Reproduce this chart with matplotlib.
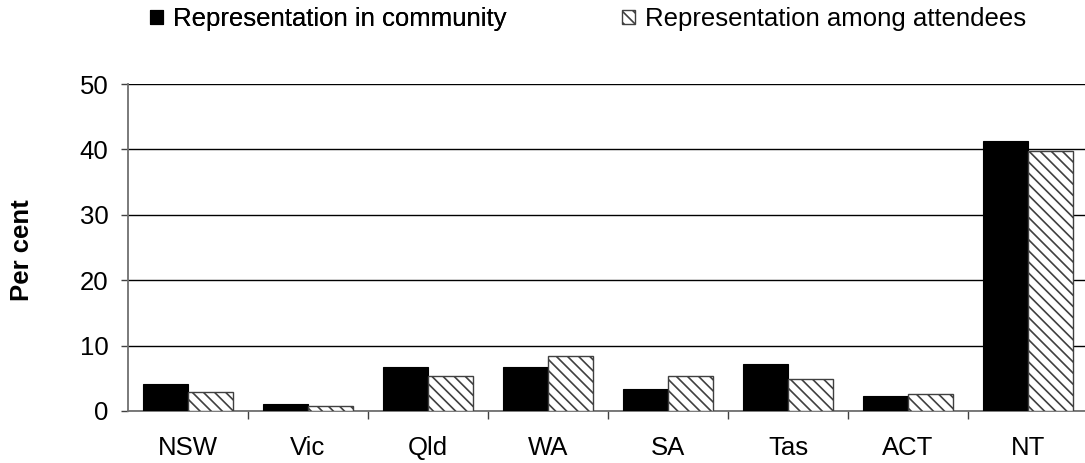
import matplotlib
matplotlib.use('Agg')
import matplotlib.pyplot as plt
import numpy as np

# data
states = ['NSW', 'Vic', 'Qld', 'WA', 'SA', 'Tas', 'ACT', 'NT']
community = [4.1, 1.1, 6.7, 6.7, 3.4, 7.2, 2.3, 41.3]
attendees = [2.9, 0.8, 5.3, 8.4, 5.3, 4.9, 2.6, 39.8]
yticks = [0, 10, 20, 30, 40, 50]

plt.rcParams['font.family'] = ['Liberation Sans', 'DejaVu Sans']
plt.rcParams['hatch.color'] = '#262626'
plt.rcParams['hatch.linewidth'] = 1.2

FS = 18.5

fig = plt.figure(figsize=(10.85, 4.63), dpi=100)
# axes box in pixels: left 128, right edge of image, top 84, bottom 411
ax = fig.add_axes([128 / 1085, (463 - 411) / 463, 1 - 128 / 1085, (411 - 84) / 463])

x = np.arange(len(states))
w = 0.375
b1 = ax.bar(x - w / 2, community, w, color='black', edgecolor='black', linewidth=0.8,
            label='Representation in community', zorder=3)
b2 = ax.bar(x + w / 2, attendees, w, color='white', edgecolor='#404040', linewidth=1.0,
            hatch='\\\\\\', label='Representation among attendees', zorder=3)

ax.set_ylim(0, 50)
ax.set_yticks(yticks)
ax.set_xlim(-0.5, 7.5 - 3 / 120)
ax.set_xticks(x)
ax.set_xticklabels(states)
ax.set_xticks(np.arange(0.5, 7.5, 1), minor=True)
ax.tick_params(axis='x', which='major', length=0, labelsize=FS, pad=18)
ax.tick_params(axis='x', which='minor', length=5.5, width=1, color='#404040')
ax.tick_params(axis='y', length=5, width=1, labelsize=FS, pad=9, color='#404040')

ax.yaxis.grid(True, color='black', linewidth=1.0, zorder=0)
ax.set_axisbelow(True)
for s in ['top', 'right']:
    ax.spines[s].set_visible(False)
for s in ['left', 'bottom']:
    ax.spines[s].set_color('#707070')
    ax.spines[s].set_linewidth(1.3)

fig.text(22 / 1085, 1 - 250 / 463, 'Per cent', rotation=90, ha='center', va='center',
         fontsize=FS, fontweight='bold')

# two legend entries, placed separately like the original
leg_kw = dict(frameon=False, fontsize=FS, handlelength=0.5, handleheight=0.5,
              handletextpad=0.4, borderpad=0, borderaxespad=0, loc='center left')
l1 = fig.legend(handles=[b1], bbox_to_anchor=(150 / 1085, 1 - 19 / 463), **leg_kw)
fig.add_artist(l1)
fig.legend(handles=[b2], bbox_to_anchor=(622 / 1085, 1 - 19 / 463), **leg_kw)

fig.savefig('out.png', dpi=100)
